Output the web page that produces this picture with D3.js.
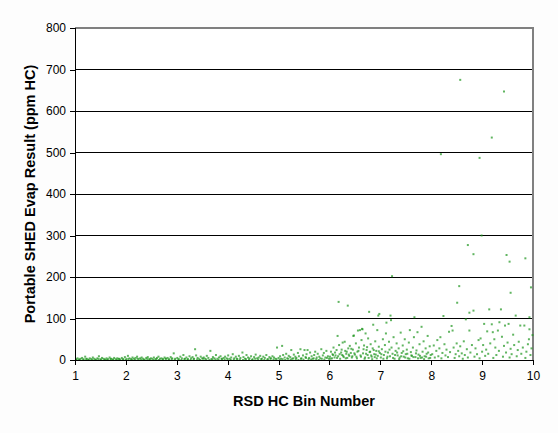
<!DOCTYPE html>
<html>
<head>
<meta charset="utf-8">
<script src="https://cdn.jsdelivr.net/npm/d3@7"></script>
<style>
    body { margin: 0; background: #fdfdfd; }
    svg { display: block; font-family: "Liberation Sans", Arial, sans-serif; }
</style>
</head>
<body>
<svg id="chart" width="558" height="433"></svg>
<script>
// RSD HC bin number vs portable SHED evap result (ppm HC)

const yTicks = [0, 100, 200, 300, 400, 500, 600, 700, 800];
const xTicks = [1, 2, 3, 4, 5, 6, 7, 8, 9, 10];

// [bin, ppm] pairs, grouped by bin range
const bins1to3 = [
    [1.02, 2], [1.05, 4], [1.08, 1], [1.11, 3], [1.14, 5], [1.17, 2], [1.2, 8], [1.23, 3], [1.26, 1], [1.29, 4],
    [1.32, 2], [1.35, 6], [1.38, 3], [1.41, 1], [1.44, 4], [1.47, 9], [1.5, 2], [1.53, 5], [1.56, 3], [1.59, 1],
    [1.62, 4], [1.65, 2], [1.68, 6], [1.71, 3], [1.74, 1], [1.77, 5], [1.8, 2], [1.83, 4], [1.86, 3], [1.89, 1],
    [1.92, 5], [1.95, 2], [1.98, 7], [2.01, 3], [2.04, 10], [2.07, 4], [2.1, 2], [2.13, 6], [2.16, 3], [2.19, 5],
    [2.22, 8], [2.25, 2], [2.28, 4], [2.31, 6], [2.34, 3], [2.37, 1], [2.4, 5], [2.43, 7], [2.46, 2], [2.49, 4],
    [2.52, 3], [2.55, 6], [2.58, 2], [2.61, 5], [2.64, 8], [2.67, 3], [2.7, 4], [2.73, 2], [2.76, 6], [2.79, 3],
    [2.82, 5], [2.85, 2], [2.88, 7], [2.91, 4], [2.94, 16], [2.97, 3],
    [1.03, 0], [1.09, 1], [1.16, 0], [1.22, 2], [1.27, 0], [1.34, 1], [1.4, 0], [1.46, 2], [1.51, 0], [1.58, 1],
    [1.63, 0], [1.7, 2], [1.75, 1], [1.82, 0], [1.87, 2], [1.94, 1], [2.0, 0], [2.05, 2], [2.12, 1], [2.18, 0],
    [2.23, 3], [2.3, 1], [2.35, 0], [2.42, 2], [2.47, 1], [2.54, 0], [2.6, 2], [2.65, 0], [2.72, 1], [2.78, 3],
    [2.84, 0], [2.9, 2], [2.96, 1]
];

const bins3to5 = [
    [3.01, 5], [3.04, 2], [3.07, 8], [3.1, 4], [3.13, 12], [3.16, 3], [3.19, 6], [3.22, 2], [3.25, 9], [3.28, 4],
    [3.31, 7], [3.34, 3], [3.38, 11], [3.41, 5], [3.44, 2], [3.47, 8], [3.5, 4], [3.53, 6], [3.56, 3], [3.59, 10],
    [3.62, 5], [3.68, 2], [3.71, 7], [3.74, 4], [3.77, 12], [3.8, 3], [3.83, 6], [3.86, 9], [3.89, 2], [3.92, 5],
    [3.95, 8], [3.98, 4], [4.01, 11], [4.04, 3], [4.07, 6], [4.1, 14], [4.13, 4], [4.16, 8], [4.19, 2], [4.22, 10],
    [4.25, 5], [4.31, 7], [4.34, 3], [4.37, 12], [4.4, 6], [4.43, 4], [4.46, 9], [4.49, 2], [4.52, 7], [4.55, 13],
    [4.58, 4], [4.61, 6], [4.64, 10], [4.67, 3], [4.7, 8], [4.73, 5], [4.76, 12], [4.79, 2], [4.82, 7], [4.85, 4],
    [4.88, 9], [4.91, 6], [4.94, 3],
    [3.36, 26], [3.66, 22], [4.29, 18],
    [3.03, 1], [3.09, 0], [3.15, 2], [3.21, 1], [3.27, 0], [3.33, 2], [3.4, 1], [3.46, 0], [3.52, 3], [3.58, 1],
    [3.64, 0], [3.7, 2], [3.76, 1], [3.82, 0], [3.88, 3], [3.94, 1], [4.0, 2], [4.06, 0], [4.12, 1], [4.18, 3],
    [4.24, 1], [4.3, 0], [4.36, 2], [4.42, 1], [4.48, 0], [4.54, 3], [4.6, 1], [4.66, 2], [4.72, 0], [4.78, 1],
    [4.84, 3], [4.9, 1], [4.96, 2]
];

const bins5to6 = [
    [4.97, 30], [5.0, 5], [5.03, 9], [5.05, 3], [5.07, 34], [5.09, 12], [5.12, 6], [5.15, 15], [5.17, 4], [5.2, 10],
    [5.23, 7], [5.25, 24], [5.27, 3], [5.3, 13], [5.33, 8], [5.35, 5], [5.38, 17], [5.4, 9], [5.43, 26], [5.45, 4],
    [5.48, 11], [5.51, 24], [5.53, 7], [5.55, 14], [5.57, 24], [5.6, 5], [5.62, 18], [5.65, 9], [5.67, 3], [5.7, 12],
    [5.72, 20], [5.75, 6], [5.77, 15], [5.8, 8], [5.82, 4], [5.84, 26], [5.87, 11], [5.89, 17], [5.92, 6], [5.94, 22],
    [5.97, 9], [5.99, 3],
    [5.02, 1], [5.08, 2], [5.13, 0], [5.19, 3], [5.24, 1], [5.29, 4], [5.34, 2], [5.39, 0], [5.44, 3], [5.49, 1],
    [5.54, 5], [5.59, 2], [5.64, 1], [5.69, 4], [5.74, 2], [5.79, 0], [5.85, 3], [5.9, 1], [5.95, 5]
];

const bins6to7 = [
    [6.01, 8], [6.03, 20], [6.05, 4], [6.06, 14], [6.08, 30], [6.1, 6], [6.12, 11], [6.14, 24], [6.16, 58], [6.17, 9],
    [6.18, 140], [6.19, 36], [6.21, 3], [6.23, 18], [6.25, 12], [6.26, 42], [6.28, 7], [6.3, 44], [6.31, 22], [6.33, 15],
    [6.35, 5], [6.36, 131], [6.37, 28], [6.39, 10], [6.4, 34], [6.42, 17], [6.44, 6], [6.46, 25], [6.47, 58], [6.48, 59],
    [6.5, 13], [6.52, 40], [6.53, 8], [6.55, 20], [6.56, 71], [6.58, 30], [6.6, 72], [6.61, 11], [6.63, 48], [6.64, 75],
    [6.65, 74], [6.66, 16], [6.68, 35], [6.7, 6], [6.71, 64], [6.73, 24], [6.75, 12], [6.76, 52], [6.78, 116], [6.79, 19],
    [6.81, 38], [6.83, 8], [6.85, 28], [6.86, 85], [6.88, 14], [6.9, 45], [6.92, 22], [6.94, 72], [6.95, 10], [6.96, 107],
    [6.97, 32], [6.98, 111], [6.99, 17],
    [6.02, 3], [6.07, 12], [6.11, 18], [6.15, 5], [6.2, 14], [6.24, 25], [6.27, 10], [6.32, 4], [6.34, 20], [6.38, 13],
    [6.43, 27], [6.45, 9], [6.49, 16], [6.54, 4], [6.57, 22], [6.62, 8], [6.67, 26], [6.69, 3], [6.72, 15], [6.74, 31],
    [6.77, 5], [6.8, 20], [6.82, 11], [6.84, 2], [6.87, 24], [6.89, 7], [6.91, 13], [6.93, 4], [6.97, 21]
];

const bins7to8 = [
    [7.01, 6], [7.03, 26], [7.05, 50], [7.07, 12], [7.09, 36], [7.11, 64], [7.12, 90], [7.13, 4], [7.15, 18], [7.17, 44],
    [7.19, 9], [7.2, 107], [7.21, 96], [7.22, 30], [7.24, 15], [7.26, 55], [7.28, 3], [7.3, 22], [7.32, 40], [7.34, 11],
    [7.36, 28], [7.38, 6], [7.4, 66], [7.42, 17], [7.44, 35], [7.46, 8], [7.48, 50], [7.5, 14], [7.52, 25], [7.54, 4],
    [7.56, 42], [7.58, 72], [7.6, 19], [7.62, 10], [7.64, 30], [7.66, 55], [7.67, 103], [7.69, 7], [7.71, 23], [7.73, 67],
    [7.75, 13], [7.77, 38], [7.79, 5], [7.81, 80], [7.83, 20], [7.85, 45], [7.87, 9], [7.89, 28], [7.91, 15], [7.93, 58],
    [7.95, 4], [7.97, 33], [7.99, 12],
    [7.02, 14], [7.06, 3], [7.1, 20], [7.14, 8], [7.18, 25], [7.25, 5], [7.29, 12], [7.33, 18], [7.37, 2], [7.41, 9],
    [7.45, 21], [7.49, 6], [7.53, 15], [7.57, 3], [7.61, 11], [7.65, 7], [7.7, 16], [7.74, 4], [7.78, 10], [7.82, 6],
    [7.86, 2], [7.9, 8], [7.94, 18], [7.98, 5]
];

const bins8to10 = [
    [8.02, 14], [8.05, 35], [8.07, 6], [8.1, 22], [8.12, 48], [8.14, 9], [8.16, 28], [8.18, 55], [8.2, 4], [8.22, 17],
    [8.24, 106], [8.26, 38], [8.28, 11], [8.3, 25], [8.33, 7], [8.35, 68], [8.37, 19], [8.4, 82], [8.42, 71], [8.44, 30],
    [8.46, 5], [8.48, 14], [8.5, 40], [8.51, 138], [8.53, 22], [8.55, 9], [8.57, 33], [8.6, 16], [8.62, 3], [8.64, 45],
    [8.66, 12], [8.68, 98], [8.7, 26], [8.72, 6], [8.75, 71], [8.75, 114], [8.77, 18], [8.8, 36], [8.83, 119], [8.85, 8],
    [8.87, 28], [8.9, 14], [8.93, 48], [8.95, 4], [8.97, 52], [9.0, 20], [9.02, 36], [9.04, 87], [9.06, 10], [9.08, 25],
    [9.1, 69], [9.12, 15], [9.14, 122], [9.16, 40], [9.19, 86], [9.21, 67], [9.22, 5], [9.24, 50], [9.26, 30], [9.28, 12],
    [9.31, 71], [9.33, 22], [9.34, 91], [9.37, 122], [9.39, 56], [9.41, 8], [9.43, 34], [9.45, 83], [9.47, 18], [9.5, 42],
    [9.52, 87], [9.54, 6], [9.56, 27], [9.58, 14], [9.61, 61], [9.63, 36], [9.66, 107], [9.68, 9], [9.7, 24], [9.72, 44],
    [9.75, 83], [9.77, 15], [9.8, 30], [9.83, 83], [9.85, 5], [9.87, 20], [9.9, 38], [9.92, 50], [9.93, 74], [9.93, 103],
    [9.95, 12], [9.97, 28], [9.99, 60]
];

const outliers = [
    [8.57, 675], [9.43, 647], [9.19, 536], [8.19, 496], [8.95, 487], [8.99, 300], [8.72, 277], [8.83, 255],
    [9.48, 253], [9.54, 237], [9.85, 245], [9.56, 162], [9.96, 175], [8.55, 178], [7.23, 202]
];

const points = [].concat(bins1to3, bins3to5, bins5to6, bins6to7, bins7to8, bins8to10, outliers);

const margin = { left: 75, right: 25, top: 28, bottom: 73 };
const width = 558, height = 433;

const svg = d3.select('#chart');

const x = d3.scaleLinear().domain([1, 10]).range([margin.left, width - margin.right]);
const y = d3.scaleLinear().domain([0, 800]).range([height - margin.bottom, margin.top]);

// plot background
svg.append('rect')
    .attr('x', x(1)).attr('y', y(800))
    .attr('width', x(10) - x(1)).attr('height', y(0) - y(800))
    .attr('fill', '#ffffff');

// gridlines
svg.append('g')
    .selectAll('line')
    .data(yTicks.filter(d => d > 0 && d < 800))
    .enter()
    .append('line')
    .attr('x1', x(1)).attr('x2', x(10))
    .attr('y1', d => y(d)).attr('y2', d => y(d))
    .attr('stroke', '#000')
    .attr('shape-rendering', 'crispEdges');

// grey top / right border
svg.append('path')
    .attr('d', `M${x(1)},${y(800)}H${x(10)}V${y(0)}`)
    .attr('fill', 'none')
    .attr('stroke', '#808080')
    .attr('stroke-width', 1.5)
    .attr('shape-rendering', 'crispEdges');

// points
svg.append('g')
    .selectAll('rect')
    .data(points)
    .enter()
    .append('rect')
    .attr('x', d => x(d[0]) - 1)
    .attr('y', d => y(d[1]) - 1)
    .attr('width', 2)
    .attr('height', 2)
    .attr('fill', '#1e961e')
    .attr('fill-opacity', 0.7);

// axes
const xAxis = svg.append('g')
    .attr('transform', `translate(0,${y(0)})`)
    .call(d3.axisBottom(x).tickValues(xTicks).tickSize(5).tickPadding(6).tickFormat(d3.format('d')));

const yAxis = svg.append('g')
    .attr('transform', `translate(${x(1)},0)`)
    .call(d3.axisLeft(y).tickValues(yTicks).tickSize(5).tickPadding(4));

[xAxis, yAxis].forEach(a => {
    a.select('.domain').attr('stroke', '#000').attr('shape-rendering', 'crispEdges');
    a.selectAll('.tick line').attr('stroke', '#000').attr('shape-rendering', 'crispEdges');
    a.selectAll('.tick text')
        .attr('fill', '#000')
        .style('font-size', '12px')
        .style('font-family', '"Liberation Sans", Arial, sans-serif');
});

// axis titles
svg.append('text')
    .attr('x', (x(1) + x(10)) / 2)
    .attr('y', 406)
    .attr('text-anchor', 'middle')
    .style('font-size', '14.5px')
    .style('font-weight', 'bold')
    .text('RSD HC Bin Number');

svg.append('text')
    .attr('transform', `translate(35,${(y(0) + y(800)) / 2}) rotate(-90)`)
    .attr('text-anchor', 'middle')
    .style('font-size', '14.5px')
    .style('font-weight', 'bold')
    .text('Portable SHED Evap Result (ppm HC)');
</script>
</body>
</html>
